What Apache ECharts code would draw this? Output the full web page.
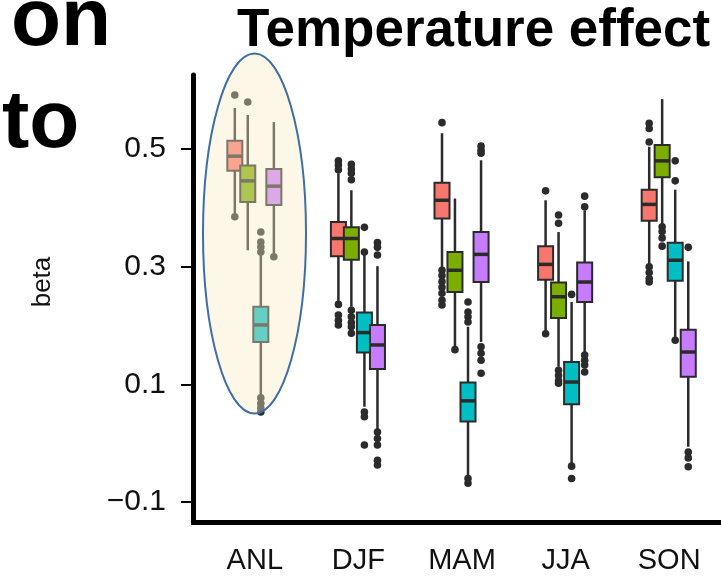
<!DOCTYPE html>
<html>
<head>
<meta charset="utf-8">
<script src="https://cdn.jsdelivr.net/npm/echarts@6/dist/echarts.min.js"></script>
<style>
html, body { margin: 0; padding: 0; background: #fff; }
#graph { width: 721px; height: 583px; }
</style>
</head>
<body>
<div id="graph"></div>
<script>
var categories = ['ANL', 'DJF', 'MAM', 'JJA', 'SON'];
var yTicks = [-0.1, 0.1, 0.3, 0.5];

// [min, Q1, median, Q3, max]
var redBoxes = [
    [0.391, 0.463, 0.488, 0.514, 0.570],
    [0.238, 0.318, 0.348, 0.376, 0.459],
    [0.297, 0.382, 0.413, 0.443, 0.527],
    [0.190, 0.278, 0.304, 0.335, 0.413],
    [0.303, 0.378, 0.406, 0.431, 0.504]
];
var greenBoxes = [
    [0.328, 0.410, 0.446, 0.472, 0.558],
    [0.232, 0.312, 0.348, 0.367, 0.430],
    [0.161, 0.257, 0.294, 0.325, 0.416],
    [0.130, 0.213, 0.249, 0.273, 0.359],
    [0.371, 0.452, 0.480, 0.507, 0.585]
];
var cyanBoxes = [
    [0.079, 0.172, 0.201, 0.232, 0.320],
    [0.062, 0.154, 0.188, 0.222, 0.320],
    [-0.057, 0.037, 0.072, 0.103, 0.198],
    [-0.035, 0.066, 0.104, 0.138, 0.240],
    [0.176, 0.276, 0.311, 0.341, 0.431]
];
var purpleBoxes = [
    [0.323, 0.405, 0.437, 0.466, 0.546],
    [0.022, 0.126, 0.167, 0.201, 0.301],
    [0.172, 0.274, 0.321, 0.359, 0.481],
    [0.154, 0.240, 0.274, 0.307, 0.396],
    [-0.006, 0.113, 0.155, 0.193, 0.309]
];

// outliers: [category index, value]
var redOut = [[0, 0.592], [0, 0.385], [1, 0.480], [1, 0.473], [1, 0.465], [1, 0.236], [1, 0.218], [1, 0.209], [1, 0.201],
    [2, 0.545], [2, 0.294], [2, 0.285], [2, 0.275], [2, 0.265], [2, 0.255], [2, 0.243], [2, 0.235],
    [3, 0.429], [3, 0.186], [4, 0.544], [4, 0.535], [4, 0.512], [4, 0.300], [4, 0.290], [4, 0.280], [4, 0.274]];
var greenOut = [[0, 0.580], [1, 0.474], [1, 0.466], [1, 0.459], [1, 0.448], [1, 0.226], [1, 0.215], [1, 0.205], [1, 0.198], [1, 0.187],
    [2, 0.159], [3, 0.388], [3, 0.374], [3, 0.124], [3, 0.115], [3, 0.106], [3, 0.102],
    [4, 0.368], [4, 0.360], [4, 0.349], [4, 0.335]];
var cyanOut = [[0, 0.359], [0, 0.342], [0, 0.334], [0, 0.325], [0, 0.077], [0, 0.068], [0, 0.060], [0, 0.053],
    [1, 0.367], [1, 0.325], [1, 0.053], [1, 0.045], [1, -0.003],
    [2, 0.240], [2, 0.223], [2, 0.215], [2, 0.206], [2, -0.060], [2, -0.068],
    [3, 0.253], [3, -0.039], [3, -0.060], [4, 0.480], [4, 0.446], [4, 0.175]];
var purpleOut = [[0, 0.317], [1, 0.341], [1, 0.333], [1, 0.320], [1, 0.019], [1, 0.008], [1, -0.003], [1, -0.029], [1, -0.037],
    [2, 0.505], [2, 0.498], [2, 0.493], [2, 0.164], [2, 0.153], [2, 0.141], [2, 0.119],
    [3, 0.420], [3, 0.402], [3, 0.150], [3, 0.141], [3, 0.133], [3, 0.121],
    [4, 0.333], [4, -0.015], [4, -0.025], [4, -0.040]];

var hueColors = ['#F8766D', '#7CAE00', '#00BFC4', '#C77CFF'];
var hueShift = [-0.193, -0.068, 0.058, 0.184];   // fraction of category band
var boxW = 0.145;
var dark = '#2b2b2b';
var fontName = '"Liberation Sans", Arial, sans-serif';

function boxRender(k) {
    return function (params, api) {
        var c = api.value(0);
        var band = api.size([1, 0])[0];
        var x = api.coord([c, 0])[0] + hueShift[k] * band;
        var w = boxW * band;
        var yMin = api.coord([c, api.value(1)])[1];
        var yQ1 = api.coord([c, api.value(2)])[1];
        var yMed = api.coord([c, api.value(3)])[1];
        var yQ3 = api.coord([c, api.value(4)])[1];
        var yMax = api.coord([c, api.value(5)])[1];
        var ln = { stroke: dark, lineWidth: 2.5 };
        return {
            type: 'group',
            children: [
                { type: 'line', shape: { x1: x, y1: yMax, x2: x, y2: yQ3 }, style: ln },
                { type: 'line', shape: { x1: x, y1: yQ1, x2: x, y2: yMin }, style: ln },
                { type: 'rect', shape: { x: x - w / 2, y: yQ3, width: w, height: yQ1 - yQ3 },
                  style: { fill: hueColors[k], stroke: dark, lineWidth: 2 } },
                { type: 'line', shape: { x1: x - w / 2, y1: yMed, x2: x + w / 2, y2: yMed },
                  style: { stroke: dark, lineWidth: 3.5 } }
            ]
        };
    };
}

function dotRender(k) {
    return function (params, api) {
        var band = api.size([1, 0])[0];
        var p = api.coord([api.value(0), api.value(1)]);
        return {
            type: 'circle',
            shape: { cx: p[0] + hueShift[k] * band, cy: p[1], r: 3.8 },
            style: { fill: dark }
        };
    };
}

var allBoxes = [redBoxes, greenBoxes, cyanBoxes, purpleBoxes];
var allOut = [redOut, greenOut, cyanOut, purpleOut];
var series = [];
allBoxes.forEach(function (rows, k) {
    series.push({
        type: 'custom',
        renderItem: boxRender(k),
        encode: { x: 0, y: [1, 2, 3, 4, 5] },
        data: rows.map(function (r, i) { return [i].concat(r); }),
        z: 2
    });
});
allOut.forEach(function (rows, k) {
    series.push({
        type: 'custom',
        renderItem: dotRender(k),
        encode: { x: 0, y: 1 },
        data: rows,
        z: 3
    });
});

var chart = echarts.init(document.getElementById('graph'));
chart.setOption({
    animation: false,
    grid: { left: 203, right: 0, top: 75, bottom: 61 },
    xAxis: {
        type: 'category',
        data: categories,
        axisLine: { onZero: false, lineStyle: { color: '#000', width: 5 } },
        axisTick: { alignWithLabel: true, length: 12, lineStyle: { color: '#444', width: 1.5 } },
        axisLabel: { fontSize: 29, color: '#111', margin: 24, fontFamily: fontName },
        splitLine: { show: false }
    },
    yAxis: {
        type: 'value',
        min: -0.134,
        max: 0.626,
        offset: 10,
        axisLine: { show: true, lineStyle: { color: '#000', width: 5 } },
        axisTick: { show: true, length: 12, customValues: yTicks, lineStyle: { color: '#000', width: 2 } },
        axisLabel: {
            customValues: yTicks,
            fontSize: 30,
            color: '#111',
            margin: 27,
            fontFamily: fontName,
            formatter: function (v) {
                return v < 0 ? '\u2212' + Math.abs(v).toFixed(1) : v.toFixed(1);
            }
        },
        splitLine: { show: false }
    },
    graphic: [
        { type: 'rect', shape: { x: 191, y: 520, width: 13, height: 5 }, style: { fill: '#000' }, z: 50 },
        {
            type: 'ellipse',
            shape: { cx: 254.5, cy: 233.5, rx: 51.5, ry: 180 },
            style: { fill: 'rgba(250,235,197,0.4)', stroke: '#3d6ea8', lineWidth: 2 },
            z: 100
        },
        {
            type: 'text', x: 43, y: 282, rotation: Math.PI / 2,
            style: { text: 'beta', font: '26px ' + fontName, fill: '#111', textAlign: 'center', textVerticalAlign: 'middle' },
            z: 100
        },
        { type: 'text', x: 237, y: 5, style: { text: 'Temperature effect', font: 'bold 53px ' + fontName, fill: '#000' }, z: 100 },
        { type: 'text', x: 11, y: -19, style: { text: 'on', font: 'bold 82px ' + fontName, fill: '#000' }, z: 100 },
        { type: 'text', x: 2, y: 83, style: { text: 'to', font: 'bold 82px ' + fontName, fill: '#000' }, z: 100 }
    ],
    series: series
});
</script>
</body>
</html>
